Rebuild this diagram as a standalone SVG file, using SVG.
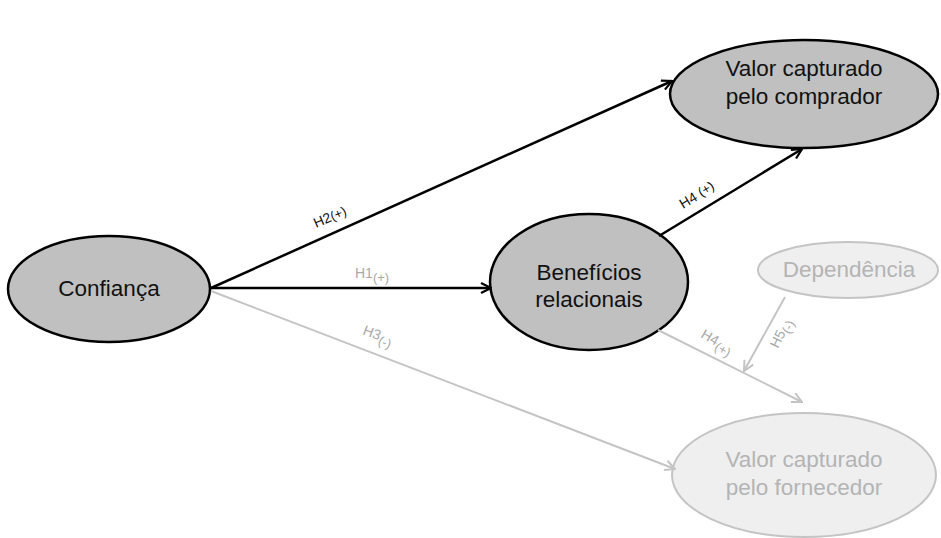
<svg xmlns="http://www.w3.org/2000/svg" width="941" height="538" viewBox="0 0 941 538">
  <style>
    .node-dark ellipse { fill: #c0c0c0; stroke: #000; stroke-width: 2.5; }
    .node-light ellipse { fill: #efefef; stroke: #c4c4c4; stroke-width: 2; }
    .node-dark text { fill: #111; }
    .node-light text { fill: #b4b4b4; }
    text { font-family: "Liberation Sans", Arial, sans-serif; font-size: 22.5px; text-anchor: middle; }
    .dark { stroke: #000; stroke-width: 2.5; fill: none; }
    .light { stroke: #c4c4c4; stroke-width: 2; fill: none; }
    .lbl-dark { font-size: 14px; fill: #111; text-anchor: start; }
    .lbl-light { font-size: 14px; fill: #a8a8a8; text-anchor: start; }
    .sub { font-size: 13px; }
  </style>
  <defs>
    <marker id="ah-dark" viewBox="0 0 12 12" refX="11" refY="6" markerWidth="12" markerHeight="12" markerUnits="userSpaceOnUse" orient="auto">
      <path d="M1,1 L11,6 L1,11" fill="none" stroke="#000" stroke-width="2.2"/>
    </marker>
    <marker id="ah-light" viewBox="0 0 12 12" refX="11" refY="6" markerWidth="12" markerHeight="12" markerUnits="userSpaceOnUse" orient="auto">
      <path d="M1,1 L11,6 L1,11" fill="none" stroke="#c4c4c4" stroke-width="2"/>
    </marker>
  </defs>
  <rect width="941" height="538" fill="#fff"/>

  <g id="confianca" class="node-dark">
    <ellipse cx="109" cy="289" rx="101" ry="53"/>
    <text x="109" y="296">Confiança</text>
  </g>
  <g id="beneficios" class="node-dark">
    <ellipse cx="589" cy="282" rx="99" ry="68"/>
    <text x="589" y="280">Benefícios</text>
    <text x="589" y="307">relacionais</text>
  </g>
  <g id="valor-comprador" class="node-dark">
    <ellipse cx="804" cy="94" rx="134" ry="54"/>
    <text x="804" y="76">Valor capturado</text>
    <text x="804" y="104">pelo comprador</text>
  </g>
  <g id="dependencia" class="node-light">
    <ellipse cx="848" cy="270" rx="90" ry="28"/>
    <text x="849" y="277">Dependência</text>
  </g>
  <g id="valor-fornecedor" class="node-light">
    <ellipse cx="804" cy="475" rx="132" ry="62"/>
    <text x="804" y="467">Valor capturado</text>
    <text x="804" y="495">pelo fornecedor</text>
  </g>

  <g id="connectors">
    <line class="light" x1="211" y1="291" x2="675" y2="469" marker-end="url(#ah-light)"/>
    <line class="light" x1="658" y1="330" x2="802" y2="402" marker-end="url(#ah-light)"/>
    <line class="light" x1="785" y1="297" x2="744" y2="371" marker-end="url(#ah-light)"/>
    <line class="dark" x1="211" y1="288" x2="672" y2="81" marker-end="url(#ah-dark)"/>
    <line class="dark" x1="211" y1="288" x2="491" y2="288" marker-end="url(#ah-dark)"/>
    <line class="dark" x1="659" y1="236" x2="802" y2="149" marker-end="url(#ah-dark)"/>

    <text class="lbl-dark" transform="translate(316,228) rotate(-23)">H2<tspan class="sub">(+)</tspan></text>
    <text class="lbl-light" transform="translate(355,278)">H1<tspan class="sub" dy="4">(+)</tspan></text>
    <text class="lbl-light" transform="translate(362,334) rotate(21)">H3<tspan class="sub" dy="4">(-)</tspan></text>
    <text class="lbl-dark" transform="translate(683,209) rotate(-31)">H4 <tspan class="sub" dy="-1">(+)</tspan></text>
    <text class="lbl-light" transform="translate(700,337) rotate(30)">H4<tspan class="sub" dy="4">(+)</tspan></text>
    <text class="lbl-light" transform="translate(778,349) rotate(-64)">H5<tspan class="sub" dy="4">(-)</tspan></text>
  </g>
</svg>
